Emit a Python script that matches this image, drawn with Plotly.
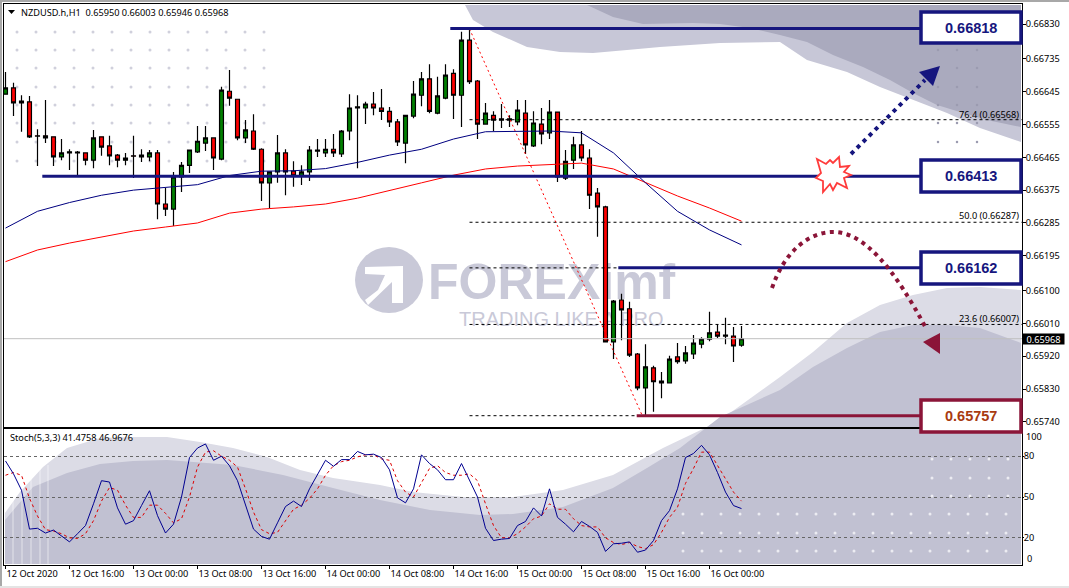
import plotly.graph_objects as go

W, H = 1069, 588

# ---------------------------------------------------------
# DATA
# ---------------------------------------------------------
opens = [.66638, .66655, .66614, .66617, .66524, .66524, .66521, .66466, .66477, .66479,
         .66477, .66457, .66521, .66496, .66471, .66457, .66469, .66466, .66466, .66477,
         .66337, .66323, .66411, .66443, .66480, .66504, .66518, .66460, .66646, .66624,
         .66518, .66537, .66487, .66395, .66425, .66477, .66427, .66414, .66425, .66485,
         .66477, .66487, .66474, .66537, .66603, .66600, .66611, .66600, .66591, .66562,
         .66504, .66578, .66635, .66680, .66586, .66627, .66695, .66635, .66786, .66674,
         .66556, .66580, .66570, .66570, .66562, .66586, .66496, .66556, .66532, .66589,
         .66408, .66457, .66499, .66463, .66367, .66329, .65959, .66074, .66050, .65926,
         .65833, .65888, .65852, .65847, .65918, .65907, .65926, .65953, .65967, .65986,
         .65978, .65975, .65950]
highs = [.66699, .66669, .66635, .66633, .66542, .66622, .66521, .66515, .66487, .66482,
         .66477, .66540, .66521, .66524, .66474, .66477, .66524, .66487, .66485, .66485,
         .66381, .66425, .66452, .66485, .66551, .66551, .66518, .66658, .66704, .66624,
         .66567, .66583, .66490, .66427, .66526, .66487, .66454, .66443, .66496, .66515,
         .66515, .66529, .66540, .66638, .66635, .66617, .66644, .66652, .66603, .66570,
         .66580, .66674, .66699, .66720, .66686, .66720, .66706, .66809, .66817, .66677,
         .66614, .66591, .66611, .66580, .66622, .66622, .66591, .66600, .66622, .66589,
         .66485, .66521, .66537, .66487, .66381, .66332, .66074, .66091, .66069, .65929,
         .65953, .65894, .65877, .65921, .65956, .65948, .65978, .65972, .66042, .66008,
         .66025, .66000, .66003]
lows = [.66638, .66578, .66535, .66518, .66441, .66504, .66441, .66457, .66430, .66416,
        .66443, .66435, .66469, .66443, .66438, .66443, .66408, .66452, .66454, .66295,
        .66304, .66277, .66370, .66422, .66477, .66482, .66430, .66457, .66606, .66512,
        .66504, .66485, .66345, .66326, .66395, .66361, .66384, .66389, .66400, .66466,
        .66466, .66466, .66466, .66512, .66435, .66556, .66580, .66567, .66548, .66496,
        .66449, .66572, .66605, .66586, .66583, .66624, .66570, .66548, .66666, .66515,
        .66556, .66537, .66545, .66548, .66553, .66474, .66493, .66501, .66515, .66397,
        .66403, .66433, .66454, .66323, .66247, .65959, .65912, .65964, .65918, .65827,
        .65756, .65768, .65805, .65847, .65899, .65899, .65912, .65942, .65961, .65970,
        .65953, .65904, .65946]
closes = [.66655, .66614, .66619, .66521, .66523, .66518, .66466, .66477, .66480, .66477,
          .66457, .66518, .66493, .66469, .66457, .66463, .66468, .66471, .66477, .66337,
          .66323, .66411, .66443, .66485, .66509, .66518, .66463, .66649, .66627, .66518,
          .66540, .66487, .66395, .66425, .66477, .66425, .66414, .66425, .66485, .66482,
          .66487, .66477, .66537, .66600, .66600, .66611, .66600, .66591, .66562, .66507,
          .66580, .66638, .66680, .66591, .66633, .66690, .66635, .66786, .66672, .66556,
          .66586, .66567, .66567, .66567, .66594, .66499, .66559, .66529, .66589, .66411,
          .66454, .66499, .66463, .66361, .66329, .65959, .66071, .66047, .65923, .65833,
          .65891, .65850, .65847, .65912, .65905, .65929, .65956, .65967, .65984, .65975,
          .65975, .65948, .65968]

ma_bars = [0, 4, 8, 12, 16, 20, 24, 28, 32, 36, 40, 44, 48, 52, 56, 60, 64, 68, 72, 76, 80, 84, 88, 92]
ma_fast = [.66271, .66317, .66341, .66361, .66375, .66382, .66390, .66415, .66427, .66428, .66434, .66451,
           .66471, .66487, .66515, .66535, .66537, .66537, .66532, .66477, .66395, .66317, .66266, .66225]
ma_slow = [.66179, .66211, .66230, .66247, .66263, .66274, .66285, .66312, .66323, .66329, .66337, .66353,
           .66375, .66395, .66416, .66433, .66441, .66446, .66449, .66433, .66395, .66359, .66326, .66290]

stoch_k = [76.5, 67, 55, 26.4, 27, 23.5, 25.7, 21.5, 17, 23, 29, 45, 62, 61, 42, 30, 32.6, 43.7, 54.6, 36.3,
           23.5, 30, 50, 79, 86, 89, 77, 80, 73, 62, 45, 26.4, 21, 19, 31, 43, 47, 43, 56, 66, 77, 72.6, 77.5,
           77.5, 83.5, 81, 81.5, 79, 70, 49.4, 45.7, 56, 81, 74.6, 70, 62.7, 62.7, 74.6, 62, 50, 27, 18, 19,
           19.5, 29, 32, 42, 36, 56, 35, 30, 24.4, 32, 28.4, 24, 10, 15.6, 16, 17, 9.4, 11, 18, 32.6, 40, 56,
           79, 82, 88, 81, 68, 53.6, 43.7, 41.4758]
stoch_d = [66, 68, 66, 49, 36, 26, 25, 23, 20, 19.5, 23, 32.6, 47, 57, 55, 44, 35, 35, 44, 44, 38, 31, 34,
           50, 72, 83, 84, 80, 77, 72, 56, 39, 26, 23, 24, 33, 41, 44, 49, 56, 66, 73, 76, 77, 79.5, 81, 81,
           78, 77, 62, 53.6, 50, 61, 71, 73, 68, 66, 66, 67, 62, 45, 29, 20, 20, 23, 28, 34, 36, 45, 41, 41,
           34, 29, 28, 28, 20, 16.5, 15, 16.5, 13.6, 12, 15, 24, 35, 42.5, 60, 71, 83, 83, 73, 63.5, 53.6, 46.9676]

trend_bars = [58, 79.6]
trend_prices = [.66817, .65757]

fib_prices = [.66568, .66287, .66162, .66007]
fib_base_price = .65757
fib_labels = ["76.4 (0.66568)", "50.0 (0.66287)", "23.6 (0.66007)"]

level_prices = [.66818, .66413, .66162, .65757]
level_texts = ["0.66818", "0.66413", "0.66162", "0.65757"]
level_starts = [55.6, 4.6, 76.6, 78.9]

last_price = .65968
y_ticks = [.6683, .66735, .66645, .66555, .66465, .66375, .66285, .66195, .661, .6601, .6592, .6583, .6574]
x_ticks = [0, 8, 16, 24, 32, 40, 48, 56, 64, 72, 80, 88]
x_labels = ["12 Oct 2020", "12 Oct 16:00", "13 Oct 00:00", "13 Oct 08:00", "13 Oct 16:00", "14 Oct 00:00",
            "14 Oct 08:00", "14 Oct 16:00", "15 Oct 00:00", "15 Oct 08:00", "15 Oct 16:00", "16 Oct 00:00"]

bars = list(range(len(opens)))

# ---------------------------------------------------------
# STYLE
# ---------------------------------------------------------
FONT = "Noto Sans"
BOLD_FONT = "Liberation Sans"
NAVY = "#16167e"
CRIMSON = "#8b1538"
BAND_LIGHT = "#dcdce6"
BAND_MID = "#c1c1d2"
TOP_LIGHT = "#c7c7d7"
TOP_DARK = "#aaaabe"
MARK_GREY = "#c9c9d8"


def fx(px):
    return px / W


def fy(py):
    return 1 - py / H


def path(points, close=True):
    d = "M " + " L ".join(f"{fx(x):.5f},{fy(y):.5f}" for x, y in points)
    return d + " Z" if close else d


def poly(points, color, layer="below"):
    return dict(type="path", path=path(points), xref="paper", yref="paper", fillcolor=color,
                line=dict(width=0), layer=layer)


def box(x0, y0, x1, y1, edge):
    return dict(type="rect", xref="paper", yref="paper", x0=fx(x0), x1=fx(x1), y0=fy(y1), y1=fy(y0),
                fillcolor="white", line=dict(color=edge, width=3.5), layer="above")


def label(x, y, text, size=9.2, color="black", xanchor="left", family=FONT, **kw):
    return dict(x=fx(x), y=fy(y), xref="paper", yref="paper", text=text, showarrow=False, xanchor=xanchor,
                yanchor="middle", borderpad=0, font=dict(family=family, size=size, color=color), **kw)


# background artwork of the original template, in screen pixels
top_light = [(465, 5), (473, 20), (493, 32), (527, 47), (560, 52), (593, 53), (627, 50), (660, 47), (720, 43),
             (780, 42), (807, 60), (847, 72), (880, 87), (947, 113), (980, 128), (1021, 142), (1021, 5)]
top_dark = [(587, 5), (613, 17), (643, 24), (693, 23), (720, 24), (750, 28), (780, 35), (807, 42), (833, 55),
            (863, 67), (890, 80), (913, 93), (937, 105), (960, 112), (987, 120), (1021, 127), (1021, 5)]
bottom_light = [(5, 564), (5, 513), (20, 492), (43, 467), (67, 448), (100, 438), (133, 437), (167, 437), (200, 442),
                (233, 448), (267, 457), (300, 470), (333, 478), (380, 485), (413, 492), (463, 497), (513, 497),
                (563, 490), (613, 475), (663, 448), (707, 427), (730, 413), (780, 377), (813, 352), (847, 323),
                (880, 305), (913, 295), (947, 288), (980, 287), (1021, 290), (1021, 564)]
bottom_mid = [(5, 564), (5, 520), (33, 487), (67, 473), (100, 464), (133, 461), (167, 460), (233, 465), (283, 475),
              (333, 488), (380, 500), (430, 510), (480, 515), (513, 514), (563, 507), (613, 488), (647, 468),
              (680, 448), (720, 417), (780, 390), (813, 367), (847, 348), (880, 332), (913, 325), (947, 325),
              (980, 328), (1013, 340), (1021, 343), (1021, 564)]
logo_arrow = [(365, 267), (403, 266), (403, 303), (392, 303), (392, 282), (368, 305), (365, 300), (378, 290),
              (385, 275), (365, 274)]
star = [(817, 159), (826, 164), (830, 160), (833, 163), (839, 157), (840, 167), (849, 166), (844, 172), (851, 175),
        (844, 178), (847, 188), (837, 183), (833, 190), (830, 184), (823, 192), (823, 181), (816, 178), (821, 173)]

shapes = [
    poly(top_light, TOP_LIGHT),
    poly(top_dark, TOP_DARK),
    poly(bottom_light, BAND_LIGHT),
    poly(bottom_mid, BAND_MID),
    dict(type="circle", xref="paper", yref="paper", x0=fx(355), x1=fx(423), y0=fy(313), y1=fy(247),
         fillcolor=MARK_GREY, line=dict(width=0), layer="below"),
    poly(logo_arrow, "white"),
    # window frame
    dict(type="rect", xref="paper", yref="paper", x0=0, x1=1, y0=fy(2), y1=1, fillcolor="#a8a8a8",
         line=dict(width=0), layer="below"),
    dict(type="rect", xref="paper", yref="paper", x0=0, x1=fx(2), y0=0, y1=1, fillcolor="#a8a8a8",
         line=dict(width=0), layer="below"),
    dict(type="rect", xref="paper", yref="paper", x0=0, x1=1, y0=0, y1=fy(586), fillcolor="#e4e4e4",
         line=dict(width=0), layer="below"),
]
# faint white stripes at the left of the indicator window
for sx in [13, 22, 31, 40, 48]:
    shapes.append(dict(type="line", xref="paper", yref="paper", x0=fx(sx), x1=fx(sx), y0=fy(564), y1=fy(465),
                       line=dict(color="rgba(255,255,255,0.55)", width=1), layer="below"))

# hand drawn arrows
shapes += [
    dict(type="line", xref="paper", yref="paper", x0=fx(851), y0=fy(154), x1=fx(925), y1=fy(80),
         line=dict(color=NAVY, width=4, dash="4px,4.5px"), layer="above"),
    poly([(940, 66), (919, 72), (933, 86)], NAVY, "above"),
    dict(type="path", xref="paper", yref="paper", layer="above",
         path=(f"M {fx(772)},{fy(288)} C {fx(785)},{fy(250)} {fx(810)},{fy(232)} {fx(833)},{fy(232)} "
               f"C {fx(865)},{fy(232)} {fx(895)},{fy(270)} {fx(927)},{fy(330)}"),
         line=dict(color=CRIMSON, width=4, dash="4px,4.5px")),
    poly([(940, 333), (923, 342), (940, 354)], CRIMSON, "above"),
    dict(type="path", path=path(star), xref="paper", yref="paper", fillcolor="white",
         line=dict(color="#ff3b3b", width=1.8), layer="above"),
]
# level boxes
shapes += [
    box(921, 12, 1021, 43, NAVY),
    box(921, 160, 1021, 192, NAVY),
    box(921, 252, 1021, 284, NAVY),
    box(921, 400, 1021, 432, CRIMSON),
]

# ---------------------------------------------------------
# FIGURE
# ---------------------------------------------------------
fig = go.Figure()

# screen pixel layer under the chart: dotted artwork and the logo text
dots_x, dots_y = [], []
for py in [32, 50, 68, 87, 105, 123, 142, 161]:
    for px in range(17, 268, 19):
        dots_x.append(px)
        dots_y.append(py)
fig.add_trace(go.Scatter(x=dots_x, y=dots_y, mode="markers", xaxis="x", yaxis="y",
                         marker=dict(color="#d0d0dc", size=3), hoverinfo="skip"))
dark_x, dark_y = [], []
for py in [50, 68, 87, 105, 123, 142]:
    for px in [938, 957, 977]:
        dark_x.append(px)
        dark_y.append(py)
fig.add_trace(go.Scatter(x=dark_x, y=dark_y, mode="markers", xaxis="x", yaxis="y",
                         marker=dict(color="#9b9bb0", size=2.5), hoverinfo="skip"))
white_x, white_y = [], []
for py in [514, 533, 551]:
    for px in range(683, 1010, 19):
        white_x.append(px)
        white_y.append(py)
for py in [459, 478, 496]:
    for px in range(932, 1010, 19):
        white_x.append(px)
        white_y.append(py)
fig.add_trace(go.Scatter(x=white_x, y=white_y, mode="markers", xaxis="x", yaxis="y",
                         marker=dict(color="#ececf2", size=3), hoverinfo="skip"))
fig.add_trace(go.Scatter(x=[428], y=[286], mode="text", text=["<b>FOREXimf</b>"], textposition="middle right",
                         textfont=dict(family=BOLD_FONT, size=50, color=MARK_GREY), xaxis="x", yaxis="y",
                         hoverinfo="skip"))
fig.add_trace(go.Scatter(x=[459], y=[321], mode="text", text=["TRADING LIKE A PRO"], textposition="middle right",
                         textfont=dict(family=BOLD_FONT, size=20, color=MARK_GREY), xaxis="x", yaxis="y",
                         hoverinfo="skip"))

# price window
for p in fib_prices:
    fig.add_trace(go.Scatter(x=[58, 127.1], y=[p, p], mode="lines", xaxis="x2", yaxis="y2",
                             line=dict(color="black", width=1, dash="3px,3px")))
fig.add_trace(go.Scatter(x=[58, 79], y=[fib_base_price, fib_base_price], mode="lines", xaxis="x2", yaxis="y2",
                         line=dict(color="black", width=1, dash="3px,3px")))
fig.add_trace(go.Scatter(x=[-0.2, 127.1], y=[last_price, last_price], mode="lines", xaxis="x2", yaxis="y2",
                         line=dict(color="#c0c0c0", width=1)))
fig.add_trace(go.Scatter(x=trend_bars, y=trend_prices, mode="lines", xaxis="x2", yaxis="y2",
                         line=dict(color="#ff0000", width=1, dash="2px,3px")))
fig.add_trace(go.Scatter(x=ma_bars, y=ma_slow, mode="lines", xaxis="x2", yaxis="y2",
                         line=dict(color="#ff0000", width=1)))
fig.add_trace(go.Scatter(x=ma_bars, y=ma_fast, mode="lines", xaxis="x2", yaxis="y2",
                         line=dict(color="#000080", width=1)))
fig.add_trace(go.Candlestick(x=bars, open=opens, high=highs, low=lows, close=closes, xaxis="x2", yaxis="y2",
                             whiskerwidth=0,
                             increasing=dict(fillcolor="#008000", line=dict(color="black", width=1.2)),
                             decreasing=dict(fillcolor="#ff0000", line=dict(color="black", width=1.2))))
for i, p in enumerate(level_prices):
    fig.add_trace(go.Scatter(x=[level_starts[i], 114.4], y=[p, p], mode="lines", xaxis="x2", yaxis="y2",
                             line=dict(color=CRIMSON if i == 3 else NAVY, width=3)))

# stochastic window
fig.add_trace(go.Scatter(x=bars, y=stoch_d, mode="lines", xaxis="x3", yaxis="y3",
                         line=dict(color="#dd0000", width=1, dash="3px,3px")))
fig.add_trace(go.Scatter(x=bars, y=stoch_k, mode="lines", xaxis="x3", yaxis="y3",
                         line=dict(color="#000090", width=1)))

annotations = [
    label(20, 12, "NZDUSD.h,H1  0.65950 0.66003 0.65946 0.65968"),
    label(9, 437, "Stoch(5,3,3) 41.4758 46.9676"),
    label(1025, 436, "100"),
    label(1026, 558, "0"),
    label(1043, 339.5, "0.65968", color="white", xanchor="center", bgcolor="black", width=41, height=10),
]
for txt, py in zip(fib_labels, [115, 216, 318]):
    annotations.append(label(1020, py, txt, size=9.2, xanchor="right"))
for txt, py, col in zip(level_texts, [27.5, 175.5, 268, 416], [NAVY, NAVY, NAVY, "#a83a10"]):
    annotations.append(label(971, py, f"<b>{txt}</b>", size=14.5, color=col, xanchor="center", family=BOLD_FONT))
# small triangle of the chart menu, next to the title
shapes.append(poly([(8, 10), (15, 10), (11.5, 14)], "black", "above"))

axis_font = dict(family=FONT, size=9.2, color="black")
fig.update_layout(
    width=W, height=H, margin=dict(l=0, r=0, t=0, b=0), autosize=False,
    template=None, showlegend=False, paper_bgcolor="white", plot_bgcolor="rgba(0,0,0,0)",
    font=axis_font, shapes=shapes, annotations=annotations,
    xaxis=dict(domain=[0, 1], range=[0, W], visible=False, fixedrange=True),
    yaxis=dict(domain=[0, 1], range=[H, 0], visible=False, fixedrange=True),
    xaxis2=dict(domain=[4 / W, 1022 / W], range=[(4 - 5.5) / 8, (1022 - 5.5) / 8], anchor="y2",
                showticklabels=False, showgrid=False, zeroline=False, rangeslider=dict(visible=False),
                showline=True, linecolor="black", linewidth=1, mirror=True, ticks=""),
    yaxis2=dict(domain=[1 - 427 / H, 1 - 4 / H], range=[.65726, .66885], anchor="x2", side="right",
                tickvals=y_ticks, tickformat=".5f", showgrid=False, zeroline=False, ticks="outside", ticklen=3,
                ticklabelstandoff=-2, tickcolor="black", showline=True, linecolor="black", linewidth=1, mirror=True),
    xaxis3=dict(domain=[4 / W, 1022 / W], range=[(4 - 5.5) / 8, (1022 - 5.5) / 8], anchor="y3",
                tickvals=x_ticks, ticktext=x_labels, ticklabelposition="outside right", showgrid=False,
                zeroline=False, ticks="outside", ticklen=3, tickcolor="black", showline=True,
                linecolor="black", linewidth=1, mirror=True),
    yaxis3=dict(domain=[1 - 565 / H, 1 - 429 / H], range=[0, 100], anchor="x3", side="right",
                tickvals=[20, 50, 80], showgrid=True, gridcolor="#666666", griddash="3px,3px", gridwidth=1,
                zeroline=False, ticks="outside", ticklen=1, ticklabelstandoff=-2, tickcolor="black", showline=True,
                linecolor="black", linewidth=1, mirror=True),
)

fig.write_html("out.html", config={"displayModeBar": False}, post_script="document.body.style.margin='0';")
